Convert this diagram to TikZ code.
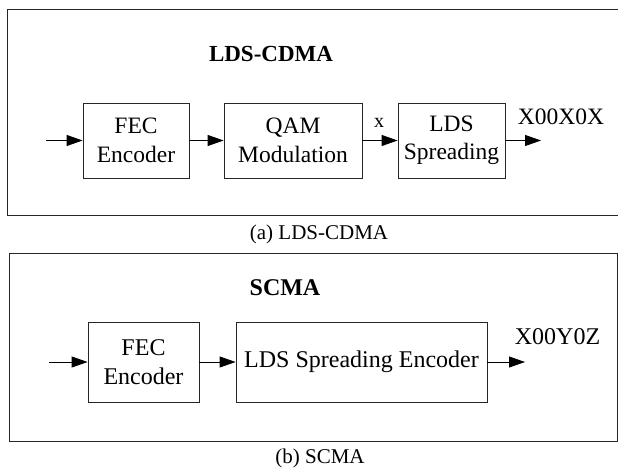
\documentclass[tikz,border=0pt]{standalone}
\usepackage{fontspec}
\setmainfont{Liberation Serif}
\usetikzlibrary{arrows.meta}
\tikzset{
  blk/.style={draw=black!85, line width=0.8pt, align=center, inner sep=0pt, font=\fontsize{23.5}{28.5}\selectfont},
  blkb/.style={draw=black!85, line width=0.8pt, align=center, inner sep=0pt, font=\fontsize{24}{29}\selectfont},
  frame/.style={draw=black!85, line width=0.9pt},
  conn/.style={line width=0.8pt, -{Triangle[length=16pt,width=11pt]}},
  ttl/.style={font=\fontsize{23}{28}\selectfont\bfseries},
  lbl/.style={font=\fontsize{23.5}{28}\selectfont, inner sep=0pt},
  captext/.style={font=\fontsize{21}{25}\selectfont, inner sep=0pt}
}
\begin{document}
\begin{tikzpicture}[x=1pt,y=-1pt]
\useasboundingbox[fill=white] (0,0) rectangle (618,470);
% panel (a)
\draw[frame] (7,9) rectangle (625,215);
\node[ttl] (ta) at (271,54) {LDS-CDMA};
\node[blk, minimum width=106pt, minimum height=75pt] (fec1) at (136,140.5) {FEC\\Encoder};
\node[blk, minimum width=138pt, minimum height=75pt] (qam) at (293,140.5) {QAM\\Modulation};
\node[blk, minimum width=107pt, minimum height=75pt] (lds) at (451.5,140.5) {LDS\\Spreading};
\coordinate (in1) at (46,140.5);
\coordinate (out1) at (541,140.5);
\draw[conn] (in1) -- (fec1);
\draw[conn] (fec1) -- (qam);
\draw[conn] (qam) -- (lds);
\draw[conn] (lds) -- (out1);
\node[lbl, font=\fontsize{20}{24}\selectfont] (xl) at (379,123) {x};
\node[lbl] (oa) at (561,117) {X00X0X};
\node[captext] (ca) at (319,234) {(a) LDS-CDMA};
% panel (b)
\draw[frame] (9,253) rectangle (617,441);
\node[ttl, font=\fontsize{24}{29}\selectfont\bfseries] (tb) at (285,288) {SCMA};
\node[blkb, minimum width=111pt, minimum height=80pt] (fec2) at (143.5,362) {FEC\\Encoder};
\node[blkb, minimum width=251pt, minimum height=80pt] (ldse) at (361.5,362) {LDS Spreading Encoder};
\coordinate (in2) at (49,362);
\coordinate (out2) at (525,362);
\draw[conn] (in2) -- (fec2);
\draw[conn] (fec2) -- (ldse);
\draw[conn] (ldse) -- (out2);
\node[lbl, font=\fontsize{24}{29}\selectfont] (ob) at (557.5,337) {X00Y0Z};
\node[captext] (cb) at (320,458) {(b) SCMA};
\end{tikzpicture}
\end{document}
